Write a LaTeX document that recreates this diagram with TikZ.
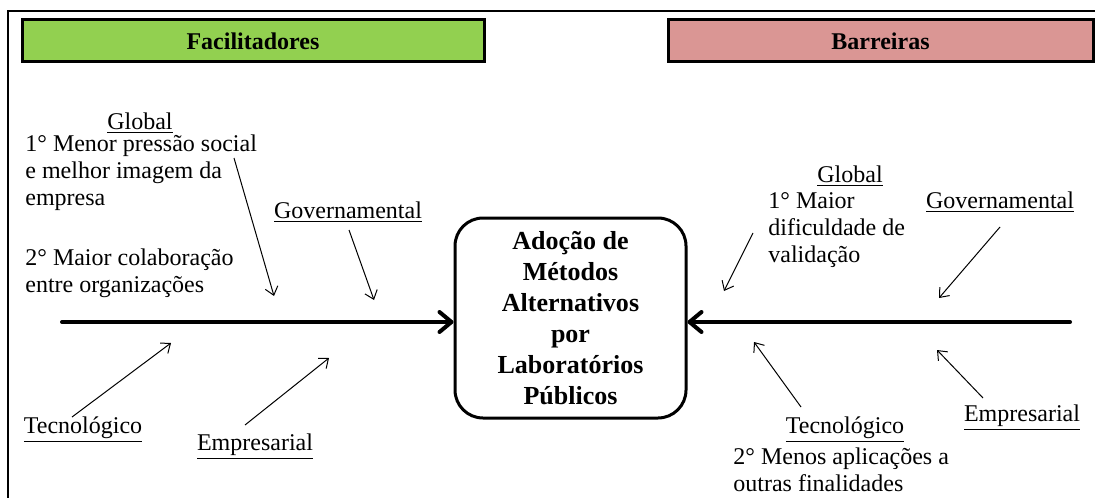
\documentclass[tikz,border=0pt]{standalone}
\usepackage{fontspec}
\setmainfont{Liberation Serif}
\usepackage{xcolor}
\usetikzlibrary{arrows.meta,positioning}

\definecolor{facilgreen}{HTML}{92D050}
\definecolor{barrierred}{HTML}{DA9694}

\begin{document}
\begin{tikzpicture}[
    x=0.5pt, y=-0.5pt,
    headbox/.style={rectangle, draw, line width=1.5pt, minimum height=21pt, inner sep=0pt, font=\fontsize{12}{14}\selectfont\bfseries},
    hub/.style={rectangle, draw, line width=1.5pt, rounded corners=14pt, minimum width=115.5pt, minimum height=100pt, align=center, font=\fontsize{13}{15.5}\selectfont\bfseries},
    lbl/.style={inner sep=0pt, font=\fontsize{12}{13.5}\selectfont},
    txt/.style={lbl, align=left, anchor=west},
    mainarrow/.style={line width=2pt, line cap=round, -{Straight Barb[length=6pt,width=10pt,round]}},
    arrow/.style={line width=0.5pt, -{Straight Barb[length=4pt,width=6.5pt]}}
]
    \useasboundingbox (0,0) rectangle (1095,497);
    \draw[line width=0.6pt] (8,11) rectangle (1110,510);

    \node[headbox, fill=facilgreen, minimum width=231pt] (facil) at (253,41) {Facilitadores};
    \node[headbox, fill=barrierred, minimum width=212.5pt] (barr) at (880.5,41) {Barreiras};

    \node[hub] (hub) at (570.5,318) {Adoção de\\Métodos\\Alternativos\\por\\Laboratórios\\Públicos};

    \coordinate (tailF) at (62,322);
    \coordinate (tailB) at (1070,322);
    \draw[mainarrow] (tailF) -- (tailF -| hub.west);
    \draw[mainarrow] (tailB) -- (tailB -| hub.east);

    % facilitadores
    \node[lbl] (globF) at (140,123) {\underline{Global}};
    \node[txt] (globFa) at (25,173) {1° Menor pressão social\\e melhor imagem da\\empresa};
    \node[txt] (globFb) at (25,273) {2° Maior colaboração\\entre organizações};
    \node[lbl] (govF) at (348,212) {\underline{Governamental}};
    \node[lbl] (tecF) at (83,430) {\underline{Tecnológico}};
    \node[lbl] (empF) at (255,447) {\underline{Empresarial}};

    % barreiras
    \node[lbl] (globB) at (850,176) {\underline{Global}};
    \node[txt] (globBa) at (768,230) {1° Maior\\dificuldade de\\validação};
    \node[lbl] (govB) at (1000,202) {\underline{Governamental}};
    \node[lbl] (tecB) at (845,430) {\underline{Tecnológico}};
    \node[txt] (tecBa) at (733,469.5) {2° Menos aplicações a\\outras finalidades};
    \node[lbl] (empB) at (1022,418) {\underline{Empresarial}};

    \coordinate (globFs) at (234,158);
    \coordinate (globFe) at (274,296);
    \coordinate (govFs) at (349,230);
    \coordinate (govFe) at (374,300);
    \coordinate (tecFs) at (72,417);
    \coordinate (tecFe) at (171,343);
    \coordinate (empFs) at (245,425);
    \coordinate (empFe) at (329,358);
    \coordinate (globBs) at (753,233);
    \coordinate (globBe) at (724,291);
    \coordinate (govBs) at (1000,227);
    \coordinate (govBe) at (939,298);
    \coordinate (tecBs) at (801,407);
    \coordinate (tecBe) at (754,342);
    \coordinate (empBs) at (983,398);
    \coordinate (empBe) at (937,350);

    \draw[arrow] (globFs) -- (globFe);
    \draw[arrow] (govFs) -- (govFe);
    \draw[arrow] (tecFs) -- (tecFe);
    \draw[arrow] (empFs) -- (empFe);
    \draw[arrow] (globBs) -- (globBe);
    \draw[arrow] (govBs) -- (govBe);
    \draw[arrow] (tecBs) -- (tecBe);
    \draw[arrow] (empBs) -- (empBe);
\end{tikzpicture}
\end{document}
